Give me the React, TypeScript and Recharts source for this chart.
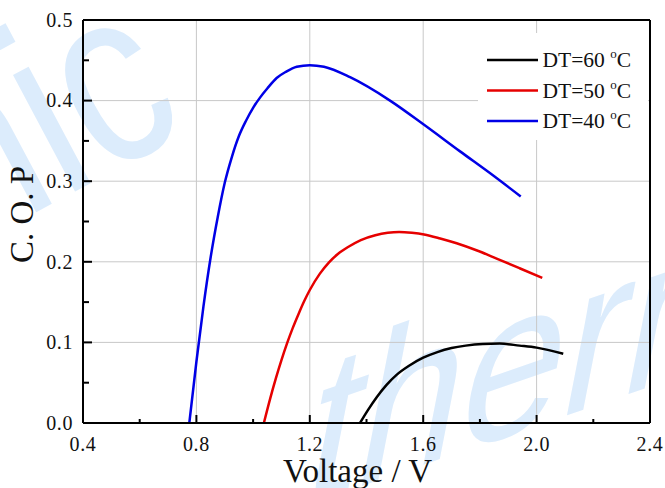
import React from 'react';
import { LineChart, Line, XAxis, YAxis, ReferenceLine, Legend } from 'recharts';

// ---- data ----
const voltageTicks = [0.4, 0.6, 0.8, 1.0, 1.2, 1.4, 1.6, 1.8, 2.0, 2.2, 2.4];
const voltageMajor = [0.4, 0.8, 1.2, 1.6, 2.0, 2.4];
const copTicks = [0, 0.05, 0.1, 0.15, 0.2, 0.25, 0.3, 0.35, 0.4, 0.45, 0.5];
const copMajor = [0, 0.1, 0.2, 0.3, 0.4, 0.5];
const gridVoltage = [0.8, 1.2, 1.6, 2.0];
const gridCop = [0.1, 0.2, 0.3, 0.4];

const dt60Voltage = [1.377, 1.405, 1.436, 1.47, 1.507, 1.55, 1.6, 1.65, 1.7, 1.75, 1.81, 1.87, 1.94, 2.0, 2.094];
const dt60Cop = [0, 0.016, 0.032, 0.047, 0.06, 0.071, 0.081, 0.088, 0.093, 0.096, 0.098, 0.0985, 0.096, 0.0935, 0.086];

const dt50Voltage = [1.038, 1.06, 1.08, 1.1, 1.12, 1.14, 1.16, 1.18, 1.2, 1.235, 1.267, 1.3, 1.338, 1.38, 1.431, 1.475, 1.515, 1.56, 1.603, 1.66, 1.718, 1.79, 1.859, 1.94, 2.02];
const dt50Cop = [0, 0.03, 0.055, 0.078, 0.099, 0.118, 0.135, 0.151, 0.165, 0.185, 0.199, 0.21, 0.219, 0.227, 0.233, 0.236, 0.237, 0.236, 0.234, 0.229, 0.223, 0.214, 0.204, 0.192, 0.18];

const dt40Voltage = [0.775, 0.8, 0.825, 0.85, 0.875, 0.9, 0.925, 0.95, 0.975, 1.0, 1.025, 1.05, 1.083, 1.117, 1.154, 1.2, 1.25, 1.342, 1.483, 1.603, 1.73, 1.847, 1.944];
const dt40Cop = [0, 0.076, 0.145, 0.205, 0.255, 0.298, 0.33, 0.356, 0.375, 0.391, 0.404, 0.415, 0.428, 0.436, 0.442, 0.444, 0.442, 0.429, 0.4, 0.37, 0.337, 0.307, 0.281];

const seriesNames = ['DT=60', 'DT=50', 'DT=40'];
const seriesColors = ['#000000', '#e60000', '#0000e6'];

const toPoints = (vs: number[], cs: number[]) => vs.map((v, i) => ({ v, c: cs[i] }));
const seriesData = [
  toPoints(dt60Voltage, dt60Cop),
  toPoints(dt50Voltage, dt50Cop),
  toPoints(dt40Voltage, dt40Cop),
];

const FONT = '"Liberation Serif", "Times New Roman", serif';
const isIn = (arr: number[], v: number) => arr.some((m) => Math.abs(m - v) < 1e-6);

const XTick = (props: any) => {
  const { x, y, payload } = props;
  const major = isIn(voltageMajor, payload.value);
  return (
    <g>
      <line x1={x} x2={x} y1={y} y2={y - (major ? 8 : 4)} stroke="#000" strokeWidth={2} />
      {major && (
        <text x={x} y={y + 27.5} textAnchor="middle" fontFamily={FONT} fontSize={20} letterSpacing={0.6} fill="#111">
          {payload.value.toFixed(1)}
        </text>
      )}
    </g>
  );
};

const YTick = (props: any) => {
  const { x, y, payload } = props;
  const major = isIn(copMajor, payload.value);
  return (
    <g>
      <line x1={x} x2={x + (major ? 9 : 6)} y1={y} y2={y} stroke="#000" strokeWidth={2} />
      {major && (
        <text x={x - 10} y={y + 6.7} textAnchor="end" fontFamily={FONT} fontSize={20} letterSpacing={0.6} fill="#111">
          {payload.value.toFixed(1)}
        </text>
      )}
    </g>
  );
};

const XTitle = (props: any) => {
  const vb = props.viewBox || { x: 83, y: 423, width: 567, height: 65 };
  return (
    <text x={vb.x + vb.width / 2 - 9} y={vb.y + 58.5} textAnchor="middle" fontFamily={FONT} fontSize={33} fill="#111">
      Voltage / V
    </text>
  );
};

const YTitle = (props: any) => {
  const vb = props.viewBox || { x: 0, y: 20, width: 83, height: 403 };
  const cx = 33;
  const cy = vb.y + vb.height / 2 - 7;
  return (
    <text x={cx} y={cy} textAnchor="middle" fontFamily={FONT} fontSize={33} fill="#111" transform={`rotate(-90, ${cx}, ${cy})`}>
      C. O. P
    </text>
  );
};

const LegendBox = () => (
  <svg width={170} height={107} style={{ display: 'block' }}>
    <rect x={0} y={0} width={170} height={107} fill="#fff" />
    {seriesNames.map((name, i) => {
      const cy = 27 + i * 30.5;
      return (
        <g key={name}>
          <line x1={9} x2={60} y1={cy} y2={cy} stroke={seriesColors[i]} strokeWidth={2.5} />
          <text x={64.5} y={cy + 7} fontFamily={FONT} fontSize={21.5} fill="#111">
            {name + ' '}
            <tspan fontSize={13} dy={-9}>o</tspan>
            <tspan dy={9}>C</tspan>
          </text>
        </g>
      );
    })}
  </svg>
);

const Watermark = () => (
  <svg width={665} height={488} style={{ position: 'absolute', left: 0, top: 0 }}>
    <text
      fontFamily='"Liberation Sans", Arial, sans-serif'
      fontSize={250}
      fill="#dcecfc"
      transform="translate(-35,250) rotate(-28) scale(0.8,1)"
    >
      nic
    </text>
    <text
      fontFamily='"Liberation Sans", Arial, sans-serif'
      fontSize={195}
      fill="#dcecfc"
      transform="translate(298,508) rotate(-19) skewX(-30)"
    >
      therm
    </text>
  </svg>
);

export default function App() {
  return (
    <div style={{ position: 'absolute', left: 0, top: 0, width: 665, height: 488, background: '#fff' }}>
      <Watermark />
      <div style={{ position: 'absolute', left: 0, top: 0 }}>
        <LineChart width={665} height={488} margin={{ top: 20, right: 15, bottom: 0, left: 0 }}>
          <XAxis
            type="number"
            dataKey="v"
            domain={[0.4, 2.4]}
            ticks={voltageTicks}
            interval={0}
            allowDataOverflow
            height={65}
            tickSize={0}
            tickMargin={0}
            tickLine={false}
            tick={<XTick />}
            axisLine={{ stroke: '#000', strokeWidth: 2 }}
            label={<XTitle />}
          />
          <YAxis
            type="number"
            dataKey="c"
            domain={[0, 0.5]}
            ticks={copTicks}
            interval={0}
            allowDataOverflow
            width={83}
            tickSize={0}
            tickMargin={0}
            tickLine={false}
            tick={<YTick />}
            axisLine={{ stroke: '#000', strokeWidth: 2 }}
            label={<YTitle />}
          />
          {gridVoltage.map((v) => (
            <ReferenceLine key={'gx' + v} x={v} stroke="#c8c8c8" strokeWidth={1} />
          ))}
          {gridCop.map((c) => (
            <ReferenceLine key={'gy' + c} y={c} stroke="#c8c8c8" strokeWidth={1} />
          ))}
          <ReferenceLine y={0.5} stroke="#000" strokeWidth={2} />
          <ReferenceLine x={2.4} stroke="#000" strokeWidth={2} />
          {seriesData.map((d, i) => (
            <Line
              key={seriesNames[i]}
              data={d}
              dataKey="c"
              type="monotone"
              stroke={seriesColors[i]}
              strokeWidth={2.5}
              dot={false}
              isAnimationActive={false}
              name={seriesNames[i]}
            />
          ))}
          <Legend
            layout="horizontal"
            verticalAlign="middle"
            align="center"
            content={<LegendBox />}
            wrapperStyle={{ position: 'absolute', left: 478, top: 33, width: 170, height: 107 }}
          />
        </LineChart>
      </div>
    </div>
  );
}
